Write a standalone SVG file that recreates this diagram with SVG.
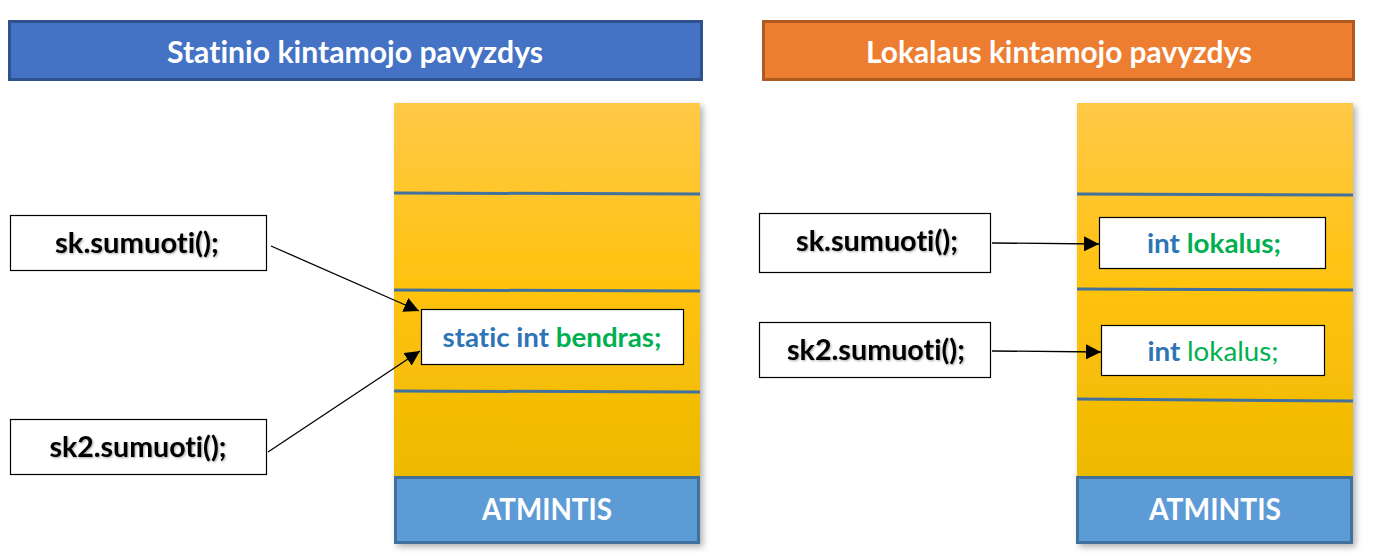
<svg xmlns="http://www.w3.org/2000/svg" width="1376" height="558" viewBox="0 0 1376 558">
<defs>
<linearGradient id="mem" x1="0" y1="0" x2="0" y2="1">
<stop offset="0" stop-color="#FFC947"/>
<stop offset="0.5" stop-color="#FFC20E"/>
<stop offset="1" stop-color="#EDB900"/>
</linearGradient>
<filter id="sh" x="-10%" y="-5%" width="125%" height="115%">
<feDropShadow dx="3" dy="3" stdDeviation="3" flood-color="#000" flood-opacity="0.3"/>
</filter>
<filter id="tsh" x="-5%" y="-20%" width="110%" height="140%">
<feDropShadow dx="1" dy="1" stdDeviation="0.8" flood-color="#000" flood-opacity="0.35"/>
</filter>
<marker id="arr" viewBox="0 0 10 10" refX="10" refY="5" markerWidth="15" markerHeight="15" markerUnits="userSpaceOnUse" orient="auto">
<path d="M0,0 L10,5 L0,10 z" fill="#000"/>
</marker>
</defs>
<style>
text{font-family:Lato,"Open Sans","Liberation Sans",sans-serif;font-weight:bold;text-anchor:middle;font-variant-ligatures:none;font-feature-settings:"liga" 0}
.title{fill:#fff;font-size:30px}
.call{fill:#000;font-size:28px}
.box{fill:#fff;stroke:#000;stroke-width:1.2}
.div{stroke:#41719C;stroke-width:3}
.atm{fill:#5B9BD5;stroke:#41719C;stroke-width:3}
.atmt{fill:#fff;font-size:30px}
.kw{fill:#2E75B6}
.gr{fill:#00B050}
.var{font-size:27px}
.conn line{stroke:#000;stroke-width:1.3;marker-end:url(#arr)}
</style>
<rect width="1376" height="558" fill="#fff"/>
<g id="title-left">
<rect x="9.5" y="21.5" width="692" height="58" fill="#4472C4" stroke="#2F528F" stroke-width="3"/>
<text class="title" x="355" y="63" textLength="376" lengthAdjust="spacingAndGlyphs">Statinio kintamojo pavyzdys</text>
</g>
<g id="title-right">
<rect x="763.5" y="21.5" width="590" height="58" fill="#ED7D31" stroke="#AE5A21" stroke-width="3"/>
<text class="title" x="1059" y="63" textLength="386" lengthAdjust="spacingAndGlyphs">Lokalaus kintamojo pavyzdys</text>
</g>
<g id="memory-left">
<g filter="url(#sh)">
<rect x="394" y="103" width="306" height="374" fill="url(#mem)"/>
<rect x="395.5" y="477.5" width="303" height="65" class="atm"/>
</g>
<line class="div" x1="394" y1="193" x2="700" y2="194"/>
<line class="div" x1="394" y1="290" x2="700" y2="291"/>
<line class="div" x1="394" y1="391" x2="700" y2="392"/>
<text class="atmt" x="547" y="520" textLength="130" lengthAdjust="spacingAndGlyphs">ATMINTIS</text>
</g>
<g id="memory-right">
<g filter="url(#sh)">
<rect x="1077" y="103" width="276" height="374" fill="url(#mem)"/>
<rect x="1077.5" y="477.5" width="274" height="65" class="atm"/>
</g>
<line class="div" x1="1077" y1="194" x2="1353" y2="195"/>
<line class="div" x1="1077" y1="289" x2="1353" y2="290"/>
<line class="div" x1="1077" y1="399" x2="1353" y2="401"/>
<text class="atmt" x="1215" y="520" textLength="132" lengthAdjust="spacingAndGlyphs">ATMINTIS</text>
</g>
<g id="var-static">
<rect class="box" x="421.5" y="309.5" width="262" height="55"/>
<text class="var" x="552" y="347" textLength="219" lengthAdjust="spacingAndGlyphs"><tspan class="kw">static int </tspan><tspan class="gr">bendras;</tspan></text>
</g>
<g id="var-local-1">
<rect class="box" x="1099.5" y="217.5" width="226" height="51"/>
<text class="var" x="1214" y="253" textLength="134" lengthAdjust="spacingAndGlyphs"><tspan class="kw">int </tspan><tspan class="gr">lokalus;</tspan></text>
</g>
<g id="var-local-2">
<rect class="box" x="1101.5" y="325.5" width="223" height="50"/>
<text class="var" x="1213" y="361" textLength="131" lengthAdjust="spacingAndGlyphs"><tspan class="kw">int </tspan><tspan class="gr" style="font-weight:normal">lokalus;</tspan></text>
</g>
<g id="call-left-1">
<rect class="box" x="10.5" y="215.5" width="256" height="55"/>
<text class="call" x="137" y="253" filter="url(#tsh)" textLength="164" lengthAdjust="spacingAndGlyphs">sk.sumuoti();</text>
</g>
<g id="call-left-2">
<rect class="box" x="10.5" y="419.5" width="256" height="55"/>
<text class="call" x="138" y="457" filter="url(#tsh)" textLength="177" lengthAdjust="spacingAndGlyphs">sk2.sumuoti();</text>
</g>
<g id="call-right-1">
<rect class="box" x="759.5" y="213.5" width="231" height="59"/>
<text class="call" x="877" y="251" filter="url(#tsh)" textLength="162" lengthAdjust="spacingAndGlyphs">sk.sumuoti();</text>
</g>
<g id="call-right-2">
<rect class="box" x="759.5" y="322.5" width="231" height="55"/>
<text class="call" x="876" y="360" filter="url(#tsh)" textLength="178" lengthAdjust="spacingAndGlyphs">sk2.sumuoti();</text>
</g>
<g id="connectors" class="conn">
<line x1="271" y1="246" x2="419" y2="311"/>
<line x1="268" y1="452" x2="420" y2="351"/>
<line x1="992" y1="243" x2="1099" y2="244"/>
<line x1="992" y1="351" x2="1101" y2="352"/>
</g>
</svg>
